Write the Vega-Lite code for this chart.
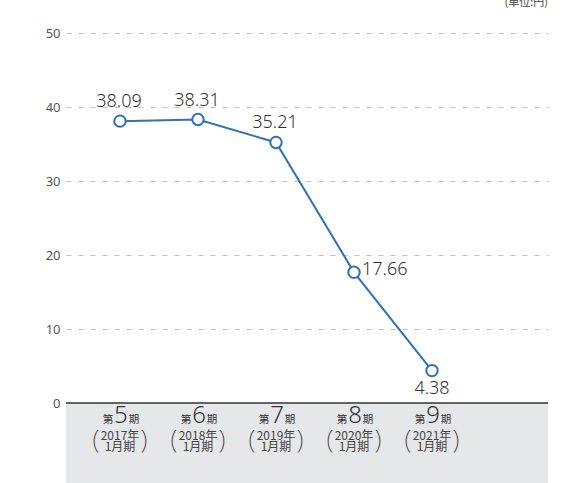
{
  "$schema": "https://vega.github.io/schema/vega-lite/v6.json",
  "width": 482,
  "height": 450,
  "autosize": {"type": "none"},
  "padding": {"left": 66, "top": 33, "right": 14, "bottom": 0},
  "background": "white",
  "title": {"text": "(単位:円)", "anchor": "end", "orient": "top", "offset": 19, "fontSize": 11, "fontWeight": "normal", "color": "#444", "font": "Noto Sans CJK JP", "frame": "group"},
  "config": {"view": {"stroke": null}},
  "data": {"values": [
    {"idx": 5, "value": 38.09, "ki": "5", "year": "2017年", "month": "1月期"},
    {"idx": 6, "value": 38.31, "ki": "6", "year": "2018年", "month": "1月期"},
    {"idx": 7, "value": 35.21, "ki": "7", "year": "2019年", "month": "1月期"},
    {"idx": 8, "value": 17.66, "ki": "8", "year": "2020年", "month": "1月期"},
    {"idx": 9, "value": 4.38, "ki": "9", "year": "2021年", "month": "1月期"}
  ]},
  "layer": [
    {
      "data": {"values": [{"a": 1}]},
      "mark": {"type": "rect", "color": "#e6e7e9"},
      "encoding": {
        "x": {"datum": 4.308, "type": "quantitative", "scale": {"domain": [4.308, 10.487], "nice": false, "zero": false}, "axis": null},
        "x2": {"datum": 10.487},
        "y": {"datum": 0, "type": "quantitative", "scale": {"domain": [-10.81, 50], "nice": false, "zero": false},
              "axis": {"values": [0, 10, 20, 30, 40, 50], "domain": false, "ticks": false, "labelPadding": 6, "labelFontSize": 13, "labelColor": "#555", "labelFont": "Noto Sans", "title": null, "grid": true, "gridDash": [5, 7], "gridColor": "#bdbdbd", "gridWidth": 1}},
        "y2": {"datum": -10.81}
      }
    },
    {
      "data": {"values": [{"a": 1}]},
      "mark": {"type": "rule", "color": "#333", "strokeWidth": 1.5},
      "encoding": {
        "x": {"datum": 4.308, "type": "quantitative"},
        "x2": {"datum": 10.487},
        "y": {"datum": 0, "type": "quantitative"}
      }
    },
    {
      "mark": {"type": "line", "color": "#2e72b8", "strokeWidth": 2},
      "encoding": {
        "x": {"field": "idx", "type": "quantitative"},
        "y": {"field": "value", "type": "quantitative"}
      }
    },
    {
      "mark": {"type": "point", "filled": true, "fill": "white", "stroke": "#2e72b8", "strokeWidth": 2, "size": 130, "opacity": 1},
      "encoding": {
        "x": {"field": "idx", "type": "quantitative"},
        "y": {"field": "value", "type": "quantitative"}
      }
    },
    {
      "transform": [{"filter": "datum.idx <= 7"}],
      "mark": {"type": "text", "fontSize": 18, "font": "Noto Sans", "fontWeight": 300, "color": "#333", "dy": -19, "dx": -1, "baseline": "middle"},
      "encoding": {
        "x": {"field": "idx", "type": "quantitative"},
        "y": {"field": "value", "type": "quantitative"},
        "text": {"field": "value", "type": "quantitative", "format": ".2f"}
      }
    },
    {
      "transform": [{"filter": "datum.idx == 8"}],
      "mark": {"type": "text", "fontSize": 18, "font": "Noto Sans", "fontWeight": 300, "color": "#333", "dx": 8, "dy": -2, "align": "left", "baseline": "middle"},
      "encoding": {
        "x": {"field": "idx", "type": "quantitative"},
        "y": {"field": "value", "type": "quantitative"},
        "text": {"field": "value", "type": "quantitative", "format": ".2f"}
      }
    },
    {
      "transform": [{"filter": "datum.idx == 9"}],
      "mark": {"type": "text", "fontSize": 18, "font": "Noto Sans", "fontWeight": 300, "color": "#333", "dy": 18, "baseline": "middle"},
      "encoding": {
        "x": {"field": "idx", "type": "quantitative"},
        "y": {"field": "value", "type": "quantitative"},
        "text": {"field": "value", "type": "quantitative", "format": ".2f"}
      }
    },
    {
      "mark": {"type": "text", "fontSize": 10.5, "font": "Noto Sans CJK JP", "color": "#333", "dx": -12, "baseline": "middle"},
      "encoding": {
        "x": {"field": "idx", "type": "quantitative"},
        "y": {"datum": -2.3, "type": "quantitative"},
        "text": {"value": "第"}
      }
    },
    {
      "mark": {"type": "text", "fontSize": 24, "font": "Noto Sans", "fontWeight": 300, "color": "#333", "dx": 1, "baseline": "middle"},
      "encoding": {
        "x": {"field": "idx", "type": "quantitative"},
        "y": {"datum": -1.76, "type": "quantitative"},
        "text": {"field": "ki"}
      }
    },
    {
      "mark": {"type": "text", "fontSize": 10.5, "font": "Noto Sans CJK JP", "color": "#333", "dx": 14, "baseline": "middle"},
      "encoding": {
        "x": {"field": "idx", "type": "quantitative"},
        "y": {"datum": -2.3, "type": "quantitative"},
        "text": {"value": "期"}
      }
    },
    {
      "mark": {"type": "text", "fontSize": 12, "font": "Noto Sans CJK JP", "color": "#444", "baseline": "middle"},
      "encoding": {
        "x": {"field": "idx", "type": "quantitative"},
        "y": {"datum": -4.46, "type": "quantitative"},
        "text": {"field": "year"}
      }
    },
    {
      "mark": {"type": "text", "fontSize": 12, "font": "Noto Sans CJK JP", "color": "#444", "baseline": "middle"},
      "encoding": {
        "x": {"field": "idx", "type": "quantitative"},
        "y": {"datum": -5.95, "type": "quantitative"},
        "text": {"field": "month"}
      }
    },
    {
      "mark": {"type": "text", "fontSize": 26, "font": "Noto Sans", "fontWeight": 200, "color": "#444", "dx": -24, "baseline": "middle"},
      "encoding": {
        "x": {"field": "idx", "type": "quantitative"},
        "y": {"datum": -5.14, "type": "quantitative"},
        "text": {"value": "("}
      }
    },
    {
      "mark": {"type": "text", "fontSize": 26, "font": "Noto Sans", "fontWeight": 200, "color": "#444", "dx": 24, "baseline": "middle"},
      "encoding": {
        "x": {"field": "idx", "type": "quantitative"},
        "y": {"datum": -5.14, "type": "quantitative"},
        "text": {"value": ")"}
      }
    }
  ]
}
